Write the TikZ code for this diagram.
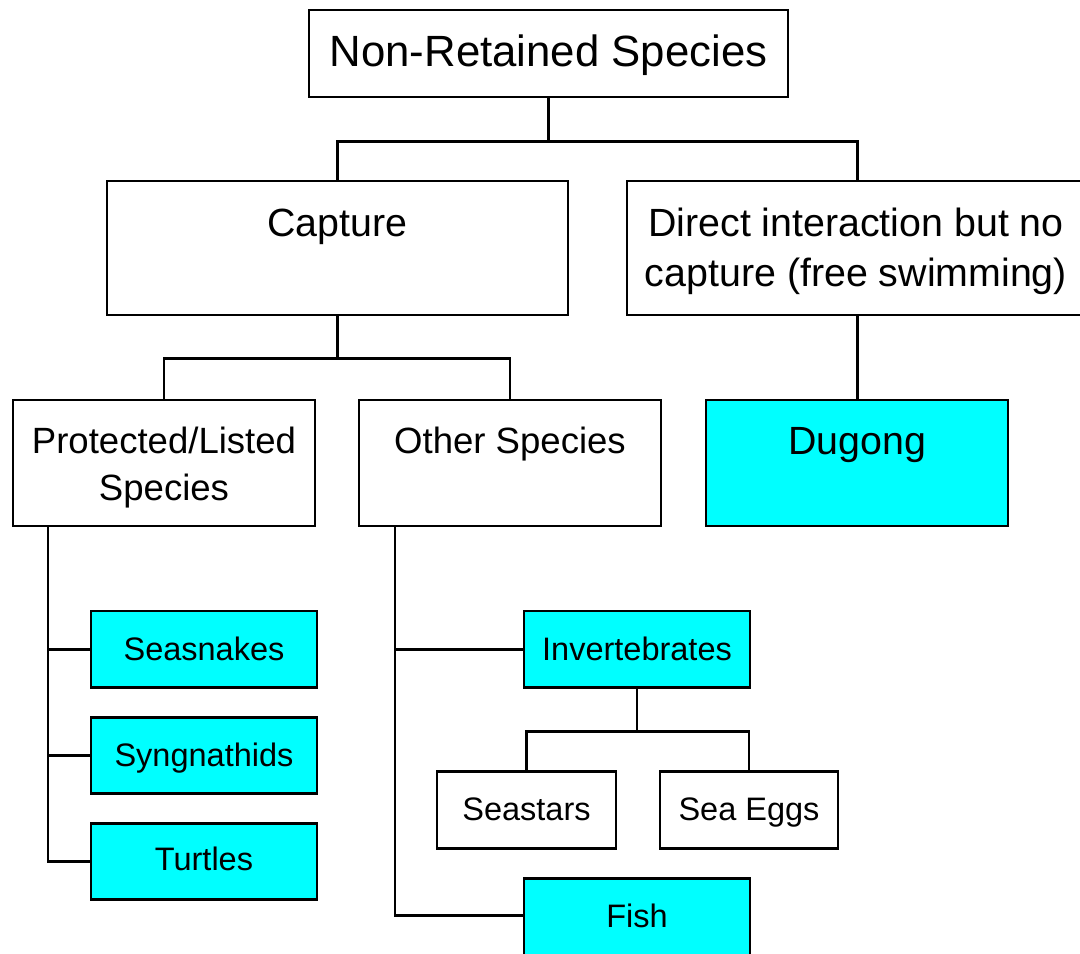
\documentclass[tikz,border=0pt]{standalone}
\usepackage{fontspec}
\setmainfont{Liberation Sans}
\usetikzlibrary{fit}
\definecolor{aqua}{HTML}{00FFFF}
\newcommand{\fA}{\fontsize{24.9}{30}\selectfont}
\newcommand{\fB}{\fontsize{22.4}{27}\selectfont}
\newcommand{\fC}{\fontsize{20.8}{25}\selectfont}
\newcommand{\fD}{\fontsize{18.5}{22}\selectfont}
\tikzset{
  boxst/.style={draw=black, line width=1.7pt, inner sep=0pt, fill=white},
  hilite/.style={boxst, fill=aqua},
  txt/.style={anchor=base, inner sep=0pt, text=black},
  conn/.style={draw=black, line width=1.7pt}
}
\begin{document}
\begin{tikzpicture}[x=0.02cm,y=-0.02cm]
\useasboundingbox (0,0) rectangle (1080,954);
\clip (0,0) rectangle (1080,954);
\fill[white] (0,0) rectangle (1080,954);
% boxes
\node[boxst, fit={(309,10)(788,97)}] (top) {};
\node[boxst, fit={(107,181)(568,315)}] (cap) {};
\node[boxst, fit={(627,181)(1088,315)}] (dir) {};
\node[boxst, fit={(13,400)(315,526)}] (prot) {};
\node[boxst, fit={(359,400)(661,526)}] (oth) {};
\node[hilite, fit={(706,400)(1008,526)}] (dug) {};
\node[hilite, fit={(91,611)(317,687)}] (seas) {};
\node[hilite, fit={(91,717)(317,793)}] (syng) {};
\node[hilite, fit={(91,823)(317,899)}] (turt) {};
\node[hilite, fit={(524,611)(750,687)}] (inv) {};
\node[boxst, fit={(437,771)(616,848)}] (sst) {};
\node[boxst, fit={(660,771)(838,848)}] (seg) {};
\node[hilite, fit={(524,878)(750,1000)}] (fish) {};
% connectors
\draw[conn] (top.south) -- ++(0,43) coordinate (j1) -| (cap.north);
\draw[conn] (j1) -| (dir.north);
\draw[conn] (cap.south) -- ++(0,42) coordinate (j2) -| (prot.north);
\draw[conn] (j2) -| (oth.north);
\draw[conn] (dir.south) -- (dir.south |- dug.north);
\draw[conn] ([xshift=0.73cm]prot.south west) coordinate (pv) |- (turt.west);
\draw[conn] (pv |- seas.west) -- (seas.west);
\draw[conn] (pv |- syng.west) -- (syng.west);
\draw[conn] ([xshift=0.75cm]oth.south west) coordinate (ov) |- (fish.west |- 0,915);
\draw[conn] (ov |- inv.west) -- (inv.west);
\draw[conn] (inv.south) -- ++(0,43) coordinate (j3) -| (sst.north);
\draw[conn] (j3) -| (seg.north);
% texts
\node[txt, font=\fA] (topT) at (548.5,66) {Non-Retained Species};
\node[txt, font=\fB] (capT) at (337.5,236) {Capture};
\node[txt, font=\fB] (dirT1) at (856,236) {Direct interaction but no};
\node[txt, font=\fB] (dirT2) at (856,286) {capture (free swimming)};
\node[txt, font=\fC] (protT1) at (164,453) {Protected/Listed};
\node[txt, font=\fC] (protT2) at (164,500) {Species};
\node[txt, font=\fC] (othT) at (510,453) {Other Species};
\node[txt, font=\fB] (dugT) at (857,454) {Dugong};
\node[txt, font=\fD] (seasT) at (204,660) {Seasnakes};
\node[txt, font=\fD] (syngT) at (204,766) {Syngnathids};
\node[txt, font=\fD] (turtT) at (204,870) {Turtles};
\node[txt, font=\fD] (invT) at (637,660) {Invertebrates};
\node[txt, font=\fD] (sstT) at (526.5,820) {Seastars};
\node[txt, font=\fD] (segT) at (749,820) {Sea Eggs};
\node[txt, font=\fD] (fishT) at (637,927) {Fish};
\end{tikzpicture}
\end{document}
